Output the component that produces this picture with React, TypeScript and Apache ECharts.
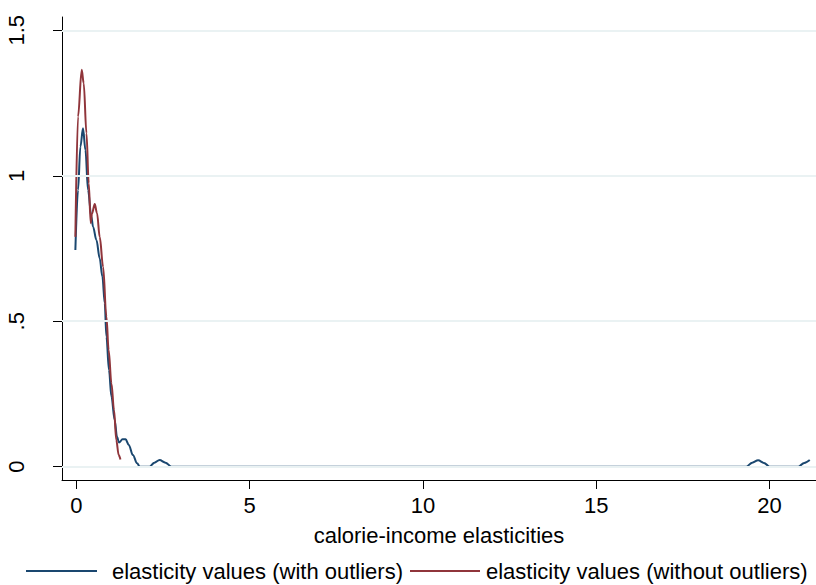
import React, { useEffect, useRef } from "react";
import * as echarts from "echarts";

const xTicks = [0, 5, 10, 15, 20];
const yTicks = [0, 0.5, 1, 1.5];
const yTickLabels: Record<string, string> = { "0": "0", "0.5": ".5", "1": "1", "1.5": "1.5" };
const seriesNames = ["elasticity values (with outliers)", "elasticity values (without outliers)"];

const withOutliers: [number, number][] = [
  [-0.03, 0.745], [0.046, 0.951], [0.115, 1.1], [0.19, 1.163], [0.26, 1.089],
  [0.335, 0.951], [0.43, 0.86], [0.48, 0.825], [0.577, 0.779], [0.672, 0.716],
  [0.75, 0.653], [0.817, 0.562], [0.866, 0.447], [0.94, 0.332], [1.01, 0.241],
  [1.105, 0.16], [1.17, 0.103], [1.23, 0.083], [1.33, 0.094], [1.42, 0.094],
  [1.51, 0.075], [1.63, 0.04], [1.75, 0.012], [1.83, 0], [2.11, 0],
  [2.25, 0.014], [2.4, 0.023], [2.57, 0.014], [2.74, 0], [19.33, 0],
  [19.5, 0.014], [19.67, 0.022], [19.84, 0.013], [20.0, 0], [20.83, 0],
  [21.0, 0.013], [21.16, 0.023],
];

const withoutOutliers: [number, number][] = [
  [-0.03, 0.79], [0.046, 1.203], [0.153, 1.364], [0.21, 1.318], [0.29, 1.146],
  [0.355, 0.974], [0.413, 0.837], [0.45, 0.87], [0.528, 0.903], [0.595, 0.871],
  [0.672, 0.79], [0.77, 0.687], [0.865, 0.516], [0.93, 0.401], [1.01, 0.287],
  [1.085, 0.195], [1.15, 0.092], [1.22, 0.04], [1.27, 0.025],
];

const FONT = "'Liberation Sans', Arial, sans-serif";
const NAVY = "#1a476f";
const MAROON = "#90353b";

export default function App() {
  const ref = useRef<HTMLDivElement>(null);
  useEffect(() => {
    if (!ref.current) return;
    const chart = echarts.init(ref.current, undefined, { renderer: "svg" });
    chart.setOption({
      animation: false,
      backgroundColor: "#ffffff",
      grid: { left: 62, right: 0, top: 17, bottom: 105 },
      xAxis: {
        type: "value",
        min: -0.416,
        max: 21.34,
        name: "calorie-income elasticities",
        nameLocation: "middle",
        nameGap: 44,
        nameTextStyle: { fontFamily: FONT, fontSize: 22, color: "#000" },
        axisLine: { show: true, onZero: false, lineStyle: { color: "#000", width: 1 } },
        axisTick: { show: true, customValues: xTicks, length: 9, lineStyle: { color: "#000" } },
        axisLabel: {
          customValues: xTicks,
          margin: 14,
          fontFamily: FONT,
          fontSize: 22,
          color: "#000",
        },
        splitLine: { show: false },
      },
      yAxis: {
        type: "value",
        min: -0.0457,
        max: 1.5457,
        axisLine: { show: true, onZero: false, lineStyle: { color: "#000", width: 1 } },
        axisTick: { show: true, customValues: yTicks, length: 9, lineStyle: { color: "#000" } },
        axisLabel: {
          customValues: yTicks,
          rotate: 90,
          margin: 35,
          fontFamily: FONT,
          fontSize: 22,
          color: "#000",
          formatter: (v: number) => yTickLabels[String(v)] ?? String(v),
        },
        splitLine: { show: false },
      },
      legend: [
        {
          data: [seriesNames[0]],
          left: 26,
          top: 560,
          itemWidth: 71,
          itemHeight: 2,
          icon: "rect",
          padding: 0,
          textStyle: { fontFamily: FONT, fontSize: 22, color: "#000", padding: [0, 0, 0, 10] },
        },
        {
          data: [seriesNames[1]],
          left: 410,
          top: 560,
          itemWidth: 70,
          itemHeight: 2,
          icon: "rect",
          padding: 0,
          textStyle: { fontFamily: FONT, fontSize: 22, color: "#000", padding: [0, 0, 0, 1] },
        },
      ],
      series: [
        {
          type: "line",
          name: "grid",
          data: [],
          z: 1,
          silent: true,
          markLine: {
            silent: true,
            symbol: "none",
            label: { show: false },
            lineStyle: { color: "#eaf2f3", width: 2, type: "solid" },
            data: yTicks.map((v) => ({ yAxis: v })),
          },
        },
        {
          type: "line",
          name: seriesNames[0],
          data: withOutliers,
          smooth: 0.35,
          smoothMonotone: "x",
          showSymbol: false,
          z: 3,
          color: NAVY,
          lineStyle: { color: NAVY, width: 2 },
        },
        {
          type: "line",
          name: seriesNames[1],
          data: withoutOutliers,
          smooth: 0.35,
          smoothMonotone: "x",
          showSymbol: false,
          z: 4,
          color: MAROON,
          lineStyle: { color: MAROON, width: 2 },
        },
      ],
    });
    return () => chart.dispose();
  }, []);
  return (
    <div
      ref={ref}
      style={{ position: "fixed", left: 0, top: 0, width: 816, height: 585, background: "#fff" }}
    />
  );
}
